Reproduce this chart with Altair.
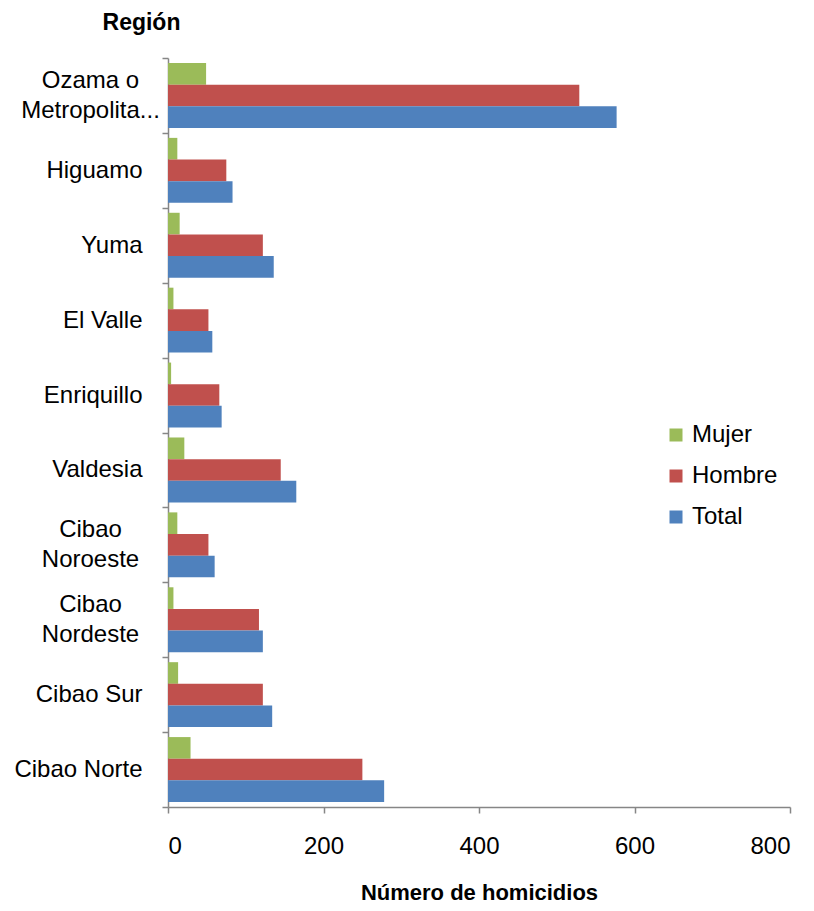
import altair as alt
import pandas as pd

regions = ["Ozama o|Metropolita...", "Higuamo", "Yuma", "El Valle", "Enriquillo",
           "Valdesia", "Cibao|Noroeste", "Cibao|Nordeste", "Cibao Sur", "Cibao Norte"]
series = ["Mujer", "Hombre", "Total"]
mujer = [49, 12, 15, 7, 4, 21, 12, 7, 13, 29]
hombre = [529, 75, 122, 52, 66, 145, 52, 117, 122, 250]
total = [577, 83, 136, 57, 69, 165, 60, 122, 134, 278]
colors = ["#9BBB59", "#C0504D", "#4F81BD"]
x_ticks = [0, 200, 400, 600, 800]

rows = []
for i, r in enumerate(regions):
    for s, vals in zip(series, [mujer, hombre, total]):
        rows.append({"region": r, "serie": s, "value": vals[i]})
df = pd.DataFrame(rows)

FONT = "Liberation Sans"
AX = "#868686"
MULTI = "indexof(datum.label, '|') >= 0"

chart = alt.Chart(df).mark_bar().encode(
    x=alt.X("value:Q",
            scale=alt.Scale(domain=[0, 800], nice=False),
            axis=alt.Axis(values=x_ticks, grid=False, title="Número de homicidios",
                          titleFontSize=22, titleFont=FONT, titleFontWeight="bold",
                          titleY=85, titleBaseline="middle",
                          labelFontSize=24, labelFont=FONT, labelColor="black",
                          labelPadding=21, tickSize=6, tickColor=AX,
                          domainColor=AX, domainWidth=1.5, tickWidth=1.5)),
    y=alt.Y("region:N", sort=regions,
            scale=alt.Scale(paddingInner=0, paddingOuter=0),
            axis=alt.Axis(title="Región", titleAngle=0, titleX=-27, titleY=-36,
                          titleAlign="center", titleBaseline="middle",
                          titleFontSize=23, titleFont=FONT, titleFontWeight="bold",
                          labelExpr="split(datum.label, '|')",
                          labelFontSize=24, labelFont=FONT, labelColor="black",
                          labelLineHeight=30, labelBaseline="middle",
                          labelAlign=alt.ConditionalAxisLabelAlign(
                              condition={"test": MULTI, "value": "center"},
                              value="right"),
                          labelPadding=alt.ConditionalAxisNumber(
                              condition={"test": MULTI, "value": 72},
                              value=20),
                          labelOffset=alt.ConditionalAxisNumber(
                              condition={"test": MULTI, "value": -15},
                              value=0),
                          tickBand="extent", tickSize=6, tickColor=AX, tickWidth=1.5,
                          domainColor=AX, domainWidth=1.5)),
    yOffset=alt.YOffset("serie:N", sort=series,
                        scale=alt.Scale(paddingInner=0, paddingOuter=0.23)),
    color=alt.Color("serie:N",
                    scale=alt.Scale(domain=series, range=colors),
                    legend=alt.Legend(title=None, orient="none", legendX=496, legendY=365,
                                      symbolType="square", symbolSize=169,
                                      symbolStrokeWidth=0, labelFontSize=24,
                                      labelFont=FONT, labelColor="black",
                                      labelOffset=4, rowPadding=17)),
).properties(
    width=622, height=749,
    padding={"left": 160, "top": 50, "right": 16, "bottom": 96},
    autosize=alt.AutoSizeParams(type="none"),
).configure_view(strokeWidth=0)

chart.save("out.html", embed_options={"renderer": "svg", "actions": False})
